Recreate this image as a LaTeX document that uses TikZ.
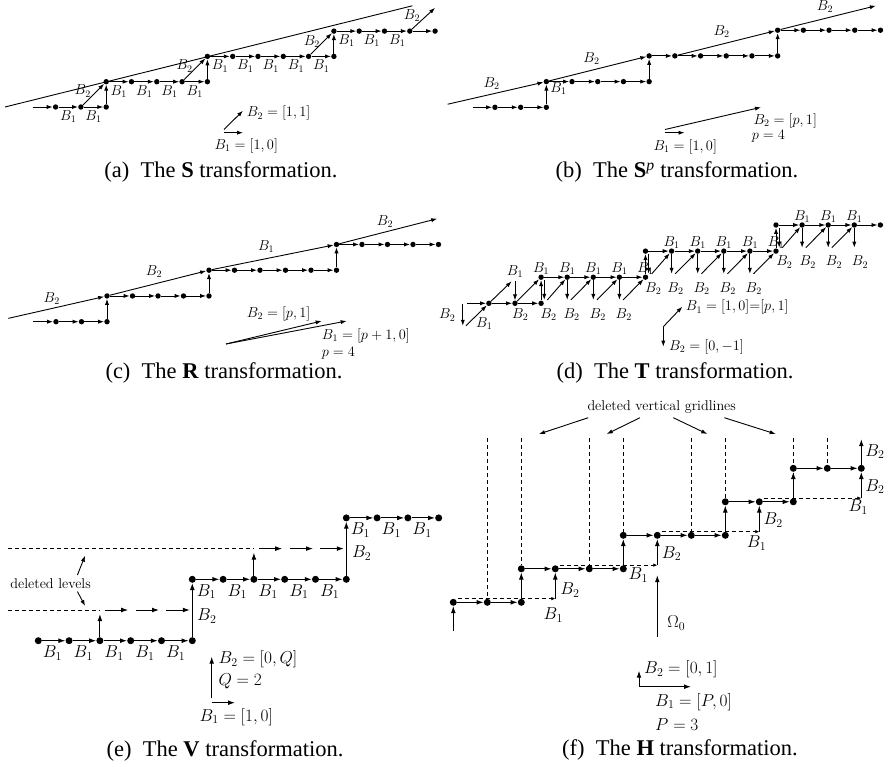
\documentclass[tikz,border=0pt]{standalone}
\usepackage{fontspec}
\newfontfamily\capfont{Liberation Serif}
\usetikzlibrary{arrows.meta}

\tikzset{
  dot/.style={circle,fill=black,draw=none,inner sep=0pt,minimum size=5.4pt},
  bdot/.style={circle,fill=black,draw=none,inner sep=0pt,minimum size=7pt},
  vec/.style={line width=0.9pt,-{Latex[length=6pt,width=4.2pt]}},
  bvec/.style={line width=1pt,-{Latex[length=7pt,width=4.8pt]}},
  plain/.style={line width=0.9pt},
  dline/.style={line width=0.9pt,dash pattern=on 4pt off 3pt},
  dvec/.style={line width=0.9pt,dash pattern=on 4pt off 3pt,-{Latex[length=4pt,width=3.6pt]}},
  lab/.style={inner sep=0pt,font=\fontsize{14.4}{16}\selectfont},
  blab/.style={inner sep=0pt,font=\fontsize{17.28}{19}\selectfont},
  note/.style={inner sep=0pt,font=\fontsize{14.2}{16}\selectfont},
  subcap/.style={inner sep=0pt,anchor=base,font=\capfont\fontsize{22.5}{26}\selectfont},
}

% staircase of lattice points shared by panels (a)-(d)
\newcommand\stairdots[2]{%
  \foreach \i/\j in {2/0,3/0,4/0,4/1,5/1,6/1,7/1,8/1,8/2,9/2,10/2,11/2,12/2,13/2,13/3,14/3,15/3,16/3,17/3}
    \node[dot] (#1\i-\j) at (\i,\j) {};
  \coordinate (#1in) at (#2,0);
  \draw[vec] (#1in) -- (#12-0);
  \foreach \j/\p/\q in {0/2/3,1/4/7,2/8/12,3/13/16}
    \foreach \i in {\p,...,\q}{%
      \pgfmathtruncatemacro\nx{\i+1}%
      \draw[vec] (#1\i-\j) -- (#1\nx-\j);
    }
  \foreach \i/\j in {4/0,8/1,13/2}{%
    \pgfmathtruncatemacro\ny{\j+1}%
    \draw[vec] (#1\i-\j) -- (#1\i-\ny);
  }
}

\begin{document}
\begin{tikzpicture}[x=1pt,y=1pt]
\useasboundingbox (0,0) rectangle (889,-766);

% ---------------- (a) S transformation ----------------
\begin{scope}[shift={(5pt,-107pt)},x=25.3pt,y=25.3pt]
  \coordinate (aL0) at (0,0);
  \coordinate (aL1) at (16.1,4.0);
  \draw[plain] (aL0) -- (aL1);
  \stairdots{a}{1.1}
  \coordinate (aTip) at (17,3.92);
  \draw[vec] (a3-0) -- (a4-1);
  \draw[vec] (a7-1) -- (a8-2);
  \draw[vec] (a12-2) -- (a13-3);
  \draw[vec] (a16-3) -- (aTip);
  \foreach \i/\j in {2/0,3/0,4/1,5/1,6/1,7/1,8/2,9/2,10/2,11/2,12/2,13/3,14/3,15/3}
    \node[lab] at (\i+0.5,\j-0.38) {$B_1$};
  \foreach \x/\y in {3.07/0.63,7.1/1.62,12.13/2.57,16.09/3.6}
    \node[lab] at (\x,\y) {$B_2$};
\end{scope}
\coordinate (aO1) at (224,-132.7);
\coordinate (aE1) at (243,-132.7);
\coordinate (aO2) at (224,-129.5);
\coordinate (aE2) at (243,-110.7);
\draw[vec] (aO1) -- (aE1);
\draw[vec] (aO2) -- (aE2);
\node[lab,anchor=west] at (246.7,-113.3) {$B_2=[1,1]$};
\node[lab,anchor=west] at (214.3,-146) {$B_1=[1,0]$};
\node[subcap] at (221,-177.7) {(a)\hspace{0.5em}The \textbf{S} transformation.};

% ---------------- (b) S^p transformation ----------------
\begin{scope}[shift={(443.55pt,-107.3pt)},x=25.7pt,y=25.7pt]
  \stairdots{b}{1.15}
  \coordinate (bS) at (0.16,0.12);
  \coordinate (bTip) at (16.82,3.95);
  \draw[vec] (bS) -- (b4-1);
  \draw[vec] (b4-1) -- (b8-2);
  \draw[vec] (b9-2) -- (b13-3);
  \draw[vec] (b13-3) -- (bTip);
  \foreach \x/\y in {1.87/0.93,5.76/1.9,10.82/2.94,14.84/3.91}
    \node[lab] at (\x,\y) {$B_2$};
  \node[lab] at (4.47,0.74) {$B_1$};
\end{scope}
\coordinate (bO1) at (665,-132.7);
\coordinate (bE1) at (684.5,-132.7);
\coordinate (bO2) at (665,-129.5);
\coordinate (bE2) at (761,-107.3);
\draw[vec] (bO1) -- (bE1);
\draw[vec] (bO2) -- (bE2);
\node[lab,anchor=west] at (753.3,-120.7) {$B_2=[p,1]$};
\node[lab,anchor=west] at (751.7,-136.7) {$p=4$};
\node[lab,anchor=west] at (653.3,-146.7) {$B_1=[1,0]$};
\node[subcap] at (677,-177.7) {(b)\hspace{0.5em}The \textbf{S}\textsuperscript{\itshape p} transformation.};

% ---------------- (c) R transformation ----------------
\begin{scope}[shift={(5pt,-321.7pt)},x=25.5pt,y=25.75pt]
  \stairdots{c}{1.1}
  \coordinate (cS) at (0.13,0.13);
  \coordinate (cTip) at (16.95,4.0);
  \draw[vec] (cS) -- (c4-1);
  \draw[vec] (c4-1) -- (c8-2);
  \draw[vec] (c8-2) -- (c13-3);
  \draw[vec] (c13-3) -- (cTip);
  \foreach \x/\y in {1.83/0.91,5.84/1.95,14.9/3.89}
    \node[lab] at (\x,\y) {$B_2$};
  \node[lab] at (10.24,2.92) {$B_1$};
\end{scope}
\coordinate (cO) at (226,-344);
\coordinate (cE2) at (321.7,-321);
\coordinate (cE1) at (346.7,-321);
\draw[vec] (cO) -- (cE2);
\draw[vec] (cO) -- (cE1);
\node[lab,anchor=west] at (246.7,-314) {$B_2=[p,1]$};
\node[lab,anchor=west] at (321.7,-335.7) {$B_1=[p+1,0]$};
\node[lab,anchor=west] at (321.7,-353.3) {$p=4$};
\node[subcap] at (224,-378.3) {(c)\hspace{0.5em}The \textbf{R} transformation.};

% ---------------- (d) T transformation ----------------
\begin{scope}[shift={(436.7pt,-303.3pt)},x=26.1pt,y=26.1pt]
  % labels first, the arrows run over them
  \node[lab] at (3,1.21) {$B_1$};
  \foreach \i in {4,...,8} \node[lab] at (\i,1.33) {$B_1$};
  \foreach \i in {9,...,13} \node[lab] at (\i,2.32) {$B_1$};
  \foreach \i in {14,15,16} \node[lab] at (\i,3.32) {$B_1$};
  \foreach \x in {3.2,4.28,5.17,6.17,7.17} \node[lab] at (\x,-0.42) {$B_2$};
  \foreach \x in {8.3,9.15,10.15,11.15,12.15} \node[lab] at (\x,0.58) {$B_2$};
  \foreach \x in {13.32,14.22,15.22,16.22} \node[lab] at (\x,1.58) {$B_2$};
  \node[lab] at (0.4,-0.45) {$B_2$};
  \node[lab] at (1.82,-0.77) {$B_1$};
  \stairdots{d}{1.15}
  % level 0
  \coordinate (dz0) at (1,-0.02);
  \coordinate (dz1) at (1,-0.86);
  \coordinate (dz2) at (1.12,-0.86);
  \draw[vec] (dz0) -- (dz1);
  \draw[vec] (dz2) -- (d2-0);
  % level 1
  \coordinate (dk1) at (2.87,0.84);
  \coordinate (dk2) at (3,0.86);
  \draw[vec] (d2-0) -- (dk1);
  \draw[vec] (dk2) -- (d3-0);
  \draw[vec] (d3-0) -- (d4-1);
  \coordinate (dk3) at (4.12,0.9);
  \coordinate (dk4) at (4.12,0.13);
  \coordinate (dk5) at (4.24,0.13);
  \draw[vec] (dk3) -- (dk4);
  \draw[vec] (dk5) -- (d5-1);
  \foreach \i in {5,6,7}{%
    \pgfmathtruncatemacro\nx{\i+1}%
    \coordinate (dl\i) at (\i,0.13);
    \coordinate (dm\i) at (\i+0.14,0.13);
    \draw[vec] (d\i-1) -- (dl\i);
    \draw[vec] (dm\i) -- (d\nx-1);
  }
  % level 2
  \coordinate (dk6) at (8.12,1.9);
  \coordinate (dk7) at (8.12,1.13);
  \coordinate (dk8) at (8.24,1.13);
  \draw[vec] (dk6) -- (dk7);
  \draw[vec] (dk8) -- (d9-2);
  \foreach \i in {9,...,12}{%
    \pgfmathtruncatemacro\nx{\i+1}%
    \coordinate (dl\i) at (\i,1.13);
    \coordinate (dm\i) at (\i+0.14,1.13);
    \draw[vec] (d\i-2) -- (dl\i);
    \draw[vec] (dm\i) -- (d\nx-2);
  }
  % level 3
  \coordinate (dk9) at (13.12,2.9);
  \coordinate (dk10) at (13.12,2.13);
  \coordinate (dk11) at (13.24,2.13);
  \draw[vec] (dk9) -- (dk10);
  \draw[vec] (dk11) -- (d14-3);
  \foreach \i in {14,15}{%
    \pgfmathtruncatemacro\nx{\i+1}%
    \coordinate (dl\i) at (\i,2.13);
    \coordinate (dm\i) at (\i+0.14,2.13);
    \draw[vec] (d\i-3) -- (dl\i);
    \draw[vec] (dm\i) -- (d\nx-3);
  }
  \coordinate (dl16) at (16,2.13);
  \draw[vec] (d16-3) -- (dl16);
\end{scope}
\coordinate (dO) at (663.3,-326.7);
\coordinate (dE1) at (682.3,-306.7);
\coordinate (dE2) at (663.3,-346.7);
\draw[vec] (dO) -- (dE1);
\draw[vec] (dO) -- (dE2);
\node[lab,anchor=west] at (685.7,-307.3) {$B_1=[1,0]{=}[p,1]$};
\node[lab,anchor=west] at (669,-346.7) {$B_2=[0,-1]$};
\node[subcap] at (675,-378.3) {(d)\hspace{0.5em}The \textbf{T} transformation.};

% ---------------- (e) V transformation ----------------
\begin{scope}[shift={(38.3pt,-640.7pt)},x=30.8pt,y=30.7pt]
  \foreach \i/\j in {0/0,1/0,2/0,3/0,4/0,5/0,5/2,6/2,7/2,8/2,9/2,10/2,10/4,11/4,12/4,13/4}
    \node[bdot] (e\i-\j) at (\i,\j) {};
  \foreach \j/\p/\q in {0/0/4,2/5/9,4/10/12}
    \foreach \i in {\p,...,\q}{%
      \pgfmathtruncatemacro\nx{\i+1}%
      \draw[bvec] (e\i-\j) -- (e\nx-\j);
      \node[blab] at (\i+0.46,\j-0.4) {$B_1$};
    }
  \draw[bvec] (e5-0) -- (e5-2);
  \draw[bvec] (e10-2) -- (e10-4);
  \node[blab] at (5.47,0.8) {$B_2$};
  \node[blab] at (10.5,2.85) {$B_2$};
  % deleted levels
  \coordinate (es1) at (2,0.87);
  \coordinate (es2) at (7,2.87);
  \draw[bvec] (e2-0) -- (es1);
  \draw[bvec] (e7-2) -- (es2);
  \coordinate (ed1) at (-0.97,1);
  \coordinate (ed2) at (2,1);
  \coordinate (ed3) at (-0.97,3);
  \coordinate (ed4) at (7,3);
  \draw[dline] (ed1) -- (ed2);
  \draw[dline] (ed3) -- (ed4);
  \foreach \i/\j in {2/1,3/1,4/1,7/3,8/3,9/3}{%
    \coordinate (eg\i) at (\i+0.16,\j);
    \coordinate (eh\i) at (\i+0.92,\j);
    \draw[bvec] (eg\i) -- (eh\i);
  }
  \node[note] (dl) at (0.4,1.87) {deleted levels};
  \coordinate (dla) at (1.27,2.14);
  \coordinate (dlb) at (1.52,2.77);
  \coordinate (dlc) at (1.27,1.6);
  \coordinate (dld) at (1.52,1.13);
  \draw[vec] (dla) -- (dlb);
  \draw[vec] (dlc) -- (dld);
\end{scope}
\coordinate (eO2) at (211.7,-698.3);
\coordinate (eE2) at (211.7,-656.7);
\coordinate (eO1) at (211.7,-702.7);
\coordinate (eE1) at (235,-702.7);
\draw[bvec] (eO2) -- (eE2);
\draw[bvec] (eO1) -- (eE1);
\node[blab,anchor=west] at (218.3,-659.3) {$B_2=[0,Q]$};
\node[blab,anchor=west] at (218.3,-681.7) {$Q=2$};
\node[blab,anchor=west] at (199.3,-716.7) {$B_1=[1,0]$};
\node[subcap] at (225,-756) {(e)\hspace{0.5em}The \textbf{V} transformation.};

% ---------------- (f) H transformation ----------------
\begin{scope}[shift={(453.3pt,-602.3pt)},x=34pt,y=33.5pt]
  % deleted vertical gridlines
  \foreach \i/\b in {1/0.11,4/1.11,7/2.11,10/3.11}{%
    \coordinate (gt\i) at (\i,4.9);
    \coordinate (gb\i) at (\i,\b);
    \draw[dline] (gt\i) -- (gb\i);
  }
  \foreach \i/\j in {0/0,1/0,2/0,2/1,3/1,4/1,5/1,5/2,6/2,7/2,8/2,8/3,9/3,10/3,10/4,11/4,12/4}
    \node[bdot] (f\i-\j) at (\i,\j) {};
  \foreach \i/\j in {2/1,5/2,8/3,11/4}{%
    \coordinate (gt\i) at (\i,4.9);
    \draw[dline] (gt\i) -- (f\i-\j);
  }
  \foreach \j/\p/\q in {0/0/1,1/2/4,2/5/7,3/8/9,4/10/11}
    \foreach \i in {\p,...,\q}{%
      \pgfmathtruncatemacro\nx{\i+1}%
      \draw[bvec] (f\i-\j) -- (f\nx-\j);
    }
  \foreach \i/\j in {2/0,5/1,8/2,10/3}{%
    \pgfmathtruncatemacro\ny{\j+1}%
    \draw[bvec] (f\i-\j) -- (f\i-\ny);
  }
  \coordinate (fin) at (0,-0.87);
  \draw[bvec] (fin) -- (f0-0);
  % B1 = [P,0] followed by B2 = [0,1]
  \foreach \a/\j in {0/0,3/1,6/2,9/3}{%
    \pgfmathtruncatemacro\nx{\a+3}%
    \pgfmathtruncatemacro\ny{\j+1}%
    \coordinate (fa\a) at (\a+0.13,\j+0.11);
    \coordinate (fb\a) at (\nx,\j+0.11);
    \draw[dvec] (fa\a) -- (fb\a);
    \draw[bvec] (fb\a) -- (f\nx-\ny);
  }
  \coordinate (ftop) at (12,4.87);
  \draw[bvec] (f12-4) -- (ftop);
  \coordinate (fom0) at (6,-1.03);
  \coordinate (fom1) at (6,0.81);
  \draw[bvec] (fom0) -- (fom1);
  \node[blab,anchor=west] at (6.29,-0.62) {$\Omega_0$};
  \foreach \x/\y in {3.43/0.36,6.42/1.46,9.41/2.46,12.4/3.45,12.4/4.5}
    \node[blab] at (\x,\y) {$B_2$};
  \foreach \x/\y in {2.94/-0.38,5.44/0.81,8.92/1.76,11.91/2.85}
    \node[blab] at (\x,\y) {$B_1$};
\end{scope}
\node[note] (dvg) at (661.7,-406.7) {deleted vertical gridlines};
\foreach \k/\xa/\xb in {1/588.3/539,2/640/606.7,3/673.3/707.3,4/724.3/775.7}{%
  \coordinate (va\k) at (\xa,-417.7);
  \coordinate (vb\k) at (\xb,-434);
  \draw[vec] (va\k) -- (vb\k);
}
\coordinate (fO) at (639,-686.7);
\coordinate (fE2) at (639,-670.7);
\coordinate (fE1) at (691,-686.7);
\draw[bvec] (fO) -- (fE2);
\draw[bvec] (fO) -- (fE1);
\node[blab,anchor=west] at (644,-669.3) {$B_2=[0,1]$};
\node[blab,anchor=west] at (655,-701.7) {$B_1=[P,0]$};
\node[blab,anchor=west] at (655,-724.3) {$P=3$};
\node[subcap] at (680,-755) {(f)\hspace{0.5em}The \textbf{H} transformation.};

\end{tikzpicture}
\end{document}
